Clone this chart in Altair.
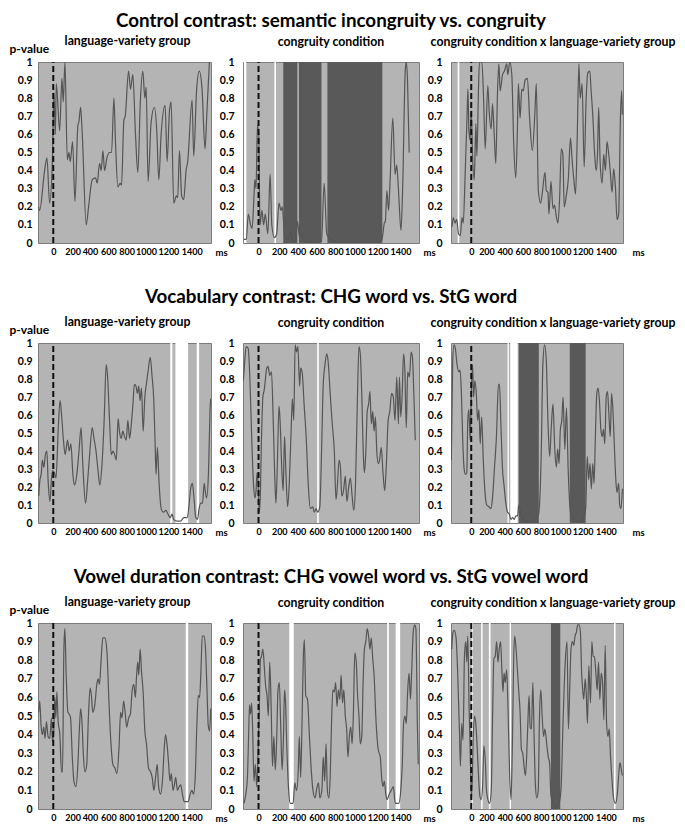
import altair as alt
import pandas as pd

FONT = "Lato"

ROW_TITLES = [
    "Control contrast: semantic incongruity vs. congruity",
    "Vocabulary contrast: CHG word vs. StG word",
    "Vowel duration contrast: CHG vowel word vs. StG vowel word",
]
COL_TITLES = [
    "language-variety group",
    "congruity condition",
    "congruity condition x language-variety group",
]
X_TICKS = [0, 200, 400, 600, 800, 1000, 1200, 1400]
Y_TICKS = [0, 0.1, 0.2, 0.3, 0.4, 0.5, 0.6, 0.7, 0.8, 0.9, 1.0]

# (time ms, p-value)
R1C1 = [(-145, 0.20), (-134, 0.18), (-85, 0.40), (-62, 0.47), (-36, 0.22), (-9, 0.45), (7, 0.83), (20, 0.60),
        (30, 0.88), (63, 0.62), (85, 0.91), (98, 0.78), (115, 1.0), (138, 0.46), (154, 0.50), (167, 0.45),
        (190, 0.56), (213, 0.23), (242, 0.65), (252, 0.67), (269, 0.75), (285, 0.60), (324, 0.10), (347, 0.20),
        (383, 0.35), (416, 0.36), (432, 0.33), (455, 0.44), (471, 0.40), (488, 0.51), (504, 0.40), (527, 0.47),
        (553, 0.50), (573, 0.50), (596, 0.80), (612, 0.55), (635, 0.31), (658, 0.33), (671, 0.32), (694, 0.68),
        (707, 0.70), (740, 0.95), (759, 0.85), (782, 0.93), (808, 0.60), (831, 0.39), (857, 0.80), (880, 0.95),
        (900, 0.80), (913, 0.86), (932, 0.34), (962, 0.67), (994, 0.75), (1017, 0.62), (1037, 0.35), (1060, 0.60),
        (1099, 0.76), (1119, 0.45), (1142, 0.73), (1158, 0.78), (1184, 0.22), (1210, 0.26), (1223, 0.25),
        (1240, 0.51), (1262, 0.26), (1282, 0.24), (1305, 0.40), (1321, 0.45), (1364, 0.79), (1380, 0.48),
        (1409, 0.85), (1435, 0.95), (1462, 0.85), (1491, 0.52), (1508, 0.70), (1534, 1.0)]

R1C2 = [(-141, 0.02), (-118, 0.02), (-99, 0.16), (-77, 0.10), (-62, 0.08), (-46, 0.23), (-36, 0.35), (-24, 0.30),
        (-11, 0.65), (2, 0.60), (14, 0.10), (33, 0.18), (49, 0.10), (65, 0.16), (90, 0.05), (112, 0.38),
        (128, 0.10), (153, 0.03), (175, 0.05), (198, 0.22), (217, 0.18), (229, 0.20), (254, 0.03), (286, 0.02),
        (311, 0.06), (333, 0.01), (356, 0.01), (375, 0.12), (397, 0.03), (419, 0.06), (444, 0.01), (570, 0.0),
        (608, 0.01), (634, 0.33), (659, 0.05), (681, 0.03), (703, 0.02), (760, 0.0), (1171, 0.0), (1196, 0.03),
        (1215, 0.11), (1225, 0.12), (1240, 0.29), (1256, 0.18), (1269, 0.32), (1297, 0.69), (1319, 0.38),
        (1335, 0.43), (1351, 0.30), (1376, 0.07), (1392, 0.30), (1417, 0.95), (1427, 1.0), (1439, 0.90),
        (1455, 0.50)]

R1C3 = [(-190, 0.09), (-177, 0.14), (-161, 0.11), (-144, 0.13), (-125, 0.05), (-108, 0.04), (-92, 0.14),
        (-79, 0.11), (-59, 0.40), (-42, 0.69), (-33, 0.85), (-23, 0.62), (-13, 0.57), (0, 0.73), (13, 0.48),
        (30, 0.35), (46, 0.66), (56, 0.48), (72, 0.86), (82, 1.0), (105, 1.0), (122, 0.80), (138, 0.52),
        (164, 0.87), (177, 0.73), (197, 0.63), (210, 0.77), (227, 0.60), (243, 0.44), (259, 0.82), (273, 0.99),
        (286, 0.84), (309, 0.93), (328, 0.95), (351, 0.99), (361, 0.93), (381, 1.0), (401, 0.93), (420, 0.55),
        (440, 0.36), (456, 0.62), (466, 0.88), (483, 0.69), (499, 0.85), (515, 0.84), (532, 0.90), (555, 0.91),
        (578, 0.68), (604, 0.51), (630, 0.73), (643, 0.88), (663, 0.29), (686, 0.22), (703, 0.28), (729, 0.39),
        (742, 0.29), (758, 0.28), (768, 0.16), (788, 0.34), (808, 0.19), (824, 0.21), (840, 0.15), (857, 0.11),
        (873, 0.24), (890, 0.52), (906, 0.49), (919, 0.20), (939, 0.26), (959, 0.35), (981, 0.58), (998, 0.45),
        (1014, 0.35), (1031, 0.27), (1047, 0.57), (1064, 0.99), (1077, 0.80), (1096, 0.88), (1116, 0.42),
        (1136, 0.80), (1152, 0.94), (1172, 0.95), (1185, 0.84), (1201, 0.71), (1218, 0.51), (1234, 0.40),
        (1247, 0.48), (1260, 0.75), (1273, 0.46), (1293, 0.33), (1310, 0.49), (1326, 0.40), (1342, 0.56),
        (1359, 0.49), (1375, 0.39), (1392, 0.28), (1408, 0.41), (1425, 0.31), (1441, 0.13), (1457, 0.16),
        (1474, 0.68), (1487, 0.84), (1493, 0.71)]

R2C1 = [(-143, 0.15), (-133, 0.23), (-117, 0.28), (-107, 0.35), (-93, 0.31), (-77, 0.38), (-63, 0.40), (-50, 0.23),
        (-33, 0.12), (-17, 0.25), (-7, 0.29), (10, 0.28), (27, 0.25), (50, 0.54), (67, 0.68), (83, 0.59),
        (100, 0.46), (117, 0.38), (140, 0.46), (157, 0.40), (173, 0.44), (193, 0.27), (207, 0.21), (227, 0.25),
        (253, 0.40), (273, 0.53), (290, 0.33), (317, 0.11), (340, 0.25), (360, 0.40), (383, 0.53), (400, 0.47),
        (420, 0.40), (440, 0.29), (457, 0.21), (477, 0.31), (500, 0.57), (520, 0.88), (533, 0.82), (553, 0.57),
        (570, 0.38), (587, 0.40), (603, 0.38), (620, 0.35), (637, 0.58), (650, 0.51), (667, 0.47), (683, 0.51),
        (700, 0.48), (717, 0.46), (733, 0.57), (750, 0.47), (767, 0.55), (783, 0.66), (797, 0.77), (813, 0.76),
        (827, 0.72), (840, 0.76), (853, 0.68), (867, 0.75), (883, 0.51), (900, 0.70), (917, 0.78), (933, 0.85),
        (953, 0.92), (970, 0.82), (987, 0.69), (1000, 0.46), (1010, 0.27), (1023, 0.42), (1040, 0.22),
        (1060, 0.08), (1083, 0.06), (1107, 0.07), (1127, 0.05), (1150, 0.03), (1167, 0.05), (1183, 0.02),
        (1217, 0.01), (1250, 0.01), (1283, 0.03), (1317, 0.03), (1333, 0.09), (1350, 0.19), (1367, 0.22),
        (1383, 0.14), (1400, 0.03), (1417, 0.02), (1433, 0.08), (1450, 0.11), (1467, 0.11), (1483, 0.22),
        (1493, 0.18), (1507, 0.14), (1527, 0.31), (1540, 0.62), (1547, 0.69)]

R2C2 = [(-147, 0.79), (-133, 0.90), (-120, 0.98), (-100, 0.97), (-84, 0.81), (-64, 0.44), (-47, 0.20), (-34, 0.14),
        (-24, 0.18), (-14, 0.28), (-4, 0.22), (6, 0.06), (16, 0.13), (29, 0.48), (42, 0.70), (55, 0.74),
        (65, 0.79), (79, 0.86), (92, 0.87), (108, 0.82), (125, 0.84), (142, 0.57), (155, 0.29), (168, 0.11),
        (181, 0.31), (198, 0.65), (208, 0.57), (224, 0.31), (238, 0.18), (251, 0.48), (264, 0.29), (281, 0.09),
        (297, 0.22), (314, 0.50), (327, 0.69), (340, 0.57), (354, 0.99), (367, 0.95), (380, 0.98), (397, 0.76),
        (407, 0.86), (423, 0.83), (440, 0.66), (460, 0.48), (480, 0.22), (500, 0.08), (523, 0.09), (539, 0.06),
        (556, 0.08), (572, 0.06), (592, 0.09), (609, 0.40), (625, 0.77), (642, 0.88), (659, 0.94), (672, 0.90),
        (692, 0.72), (712, 0.55), (732, 0.40), (748, 0.13), (761, 0.20), (778, 0.35), (791, 0.31), (804, 0.15),
        (821, 0.18), (838, 0.26), (854, 0.12), (871, 0.20), (887, 0.25), (904, 0.15), (920, 0.07), (937, 0.22),
        (954, 0.66), (970, 0.98), (983, 0.94), (997, 0.72), (1013, 0.37), (1023, 0.28), (1036, 0.39),
        (1050, 0.62), (1063, 0.66), (1076, 0.73), (1090, 0.55), (1103, 0.62), (1116, 0.51), (1129, 0.59),
        (1142, 0.40), (1156, 0.33), (1169, 0.35), (1186, 0.42), (1202, 0.28), (1219, 0.18), (1235, 0.33),
        (1252, 0.57), (1268, 0.62), (1285, 0.72), (1302, 0.70), (1318, 0.57), (1335, 0.81), (1351, 0.55),
        (1361, 0.81), (1374, 0.59), (1388, 0.72), (1401, 0.94), (1414, 0.84), (1427, 0.53), (1441, 0.84),
        (1457, 0.81), (1474, 0.95), (1487, 0.92), (1500, 0.72), (1514, 0.46)]

R2C3 = [(-197, 0.35), (-183, 0.90), (-170, 0.99), (-157, 0.97), (-140, 0.88), (-123, 0.84), (-110, 0.85),
        (-97, 0.72), (-84, 0.46), (-70, 0.30), (-57, 0.27), (-44, 0.28), (-34, 0.57), (-24, 0.63), (-10, 0.46),
        (3, 0.77), (13, 0.88), (23, 0.70), (36, 0.79), (50, 0.72), (63, 0.57), (76, 0.63), (89, 0.44),
        (103, 0.59), (119, 0.35), (136, 0.17), (153, 0.10), (176, 0.09), (193, 0.08), (209, 0.13), (229, 0.30),
        (249, 0.48), (269, 0.77), (279, 0.77), (292, 0.57), (309, 0.30), (326, 0.20), (342, 0.11), (359, 0.06),
        (376, 0.05), (392, 0.02), (409, 0.03), (425, 0.02), (442, 0.04), (459, 0.04), (469, 0.10), (482, 0.08),
        (502, 0.03), (542, 0.01), (608, 0.01), (642, 0.03), (662, 0.04), (675, 0.10), (692, 0.39), (708, 0.88),
        (725, 0.99), (742, 0.90), (758, 0.57), (775, 0.37), (791, 0.53), (808, 0.66), (825, 0.42), (841, 0.31),
        (855, 0.41), (868, 0.33), (881, 0.52), (895, 0.57), (908, 0.70), (925, 0.41), (941, 0.64), (958, 0.30),
        (974, 0.10), (991, 0.03), (1041, 0.01), (1091, 0.01), (1114, 0.03), (1131, 0.08), (1147, 0.37),
        (1161, 0.24), (1174, 0.33), (1187, 0.19), (1201, 0.33), (1214, 0.22), (1227, 0.48), (1241, 0.72),
        (1254, 0.75), (1267, 0.68), (1281, 0.52), (1294, 0.48), (1307, 0.52), (1320, 0.44), (1334, 0.70),
        (1347, 0.73), (1360, 0.61), (1374, 0.48), (1387, 0.72), (1400, 0.63), (1414, 0.44), (1427, 0.26),
        (1440, 0.17), (1457, 0.22), (1467, 0.10), (1480, 0.08), (1494, 0.19)]

R3C1 = [(-143, 0.52), (-133, 0.58), (-120, 0.45), (-107, 0.40), (-94, 0.44), (-81, 0.38), (-67, 0.47), (-51, 0.39),
        (-34, 0.38), (-18, 0.49), (-8, 0.36), (5, 0.42), (15, 0.60), (25, 0.49), (35, 0.63), (48, 0.47),
        (65, 0.40), (81, 0.20), (91, 0.20), (104, 0.85), (114, 0.97), (127, 0.72), (144, 0.52), (157, 0.51),
        (170, 0.49), (187, 0.28), (203, 0.15), (223, 0.12), (240, 0.22), (256, 0.42), (269, 0.54), (282, 0.47),
        (296, 0.29), (312, 0.20), (329, 0.24), (345, 0.49), (362, 0.65), (375, 0.61), (388, 0.52), (408, 0.56),
        (428, 0.67), (441, 0.70), (454, 0.67), (471, 0.81), (487, 0.92), (507, 0.92), (527, 0.85), (547, 0.58),
        (566, 0.36), (586, 0.24), (606, 0.22), (626, 0.19), (646, 0.33), (662, 0.52), (675, 0.49), (692, 0.58),
        (708, 0.51), (721, 0.44), (741, 0.49), (758, 0.51), (774, 0.63), (791, 0.67), (807, 0.60), (817, 0.70),
        (830, 0.79), (840, 0.72), (854, 0.86), (867, 0.74), (883, 0.63), (900, 0.42), (916, 0.35), (936, 0.22),
        (956, 0.20), (972, 0.17), (989, 0.10), (1005, 0.17), (1022, 0.24), (1035, 0.12), (1055, 0.08),
        (1075, 0.17), (1091, 0.33), (1104, 0.40), (1121, 0.33), (1134, 0.24), (1147, 0.15), (1160, 0.19),
        (1177, 0.10), (1190, 0.13), (1203, 0.17), (1220, 0.10), (1236, 0.12), (1253, 0.13), (1269, 0.08),
        (1286, 0.04), (1302, 0.04), (1326, 0.04), (1345, 0.08), (1362, 0.10), (1378, 0.08), (1395, 0.17),
        (1411, 0.45), (1425, 0.61), (1438, 0.60), (1451, 0.74), (1464, 0.93), (1484, 0.93), (1497, 0.85),
        (1510, 0.65), (1523, 0.45), (1537, 0.42), (1547, 0.54)]

R3C2 = [(-140, 0.03), (-123, 0.08), (-107, 0.17), (-97, 0.37), (-87, 0.56), (-77, 0.51), (-67, 0.57), (-57, 0.43),
        (-44, 0.15), (-31, 0.24), (-17, 0.12), (-4, 0.32), (6, 0.50), (19, 0.81), (29, 0.82), (42, 0.86),
        (55, 0.77), (69, 0.66), (82, 0.61), (95, 0.50), (108, 0.79), (122, 0.55), (135, 0.23), (148, 0.39),
        (162, 0.21), (175, 0.37), (188, 0.64), (201, 0.68), (215, 0.43), (228, 0.21), (241, 0.39), (251, 0.64),
        (261, 0.57), (274, 0.32), (291, 0.10), (307, 0.03), (334, 0.03), (350, 0.14), (367, 0.10), (384, 0.21),
        (394, 0.39), (407, 0.17), (420, 0.46), (433, 0.82), (443, 0.91), (456, 0.61), (473, 0.59), (490, 0.41),
        (506, 0.24), (526, 0.10), (546, 0.06), (566, 0.12), (579, 0.14), (592, 0.06), (612, 0.10), (625, 0.28),
        (639, 0.15), (652, 0.35), (665, 0.10), (679, 0.06), (692, 0.17), (705, 0.46), (718, 0.64), (732, 0.63),
        (745, 0.68), (758, 0.55), (771, 0.64), (785, 0.59), (798, 0.72), (811, 0.57), (824, 0.64), (838, 0.50),
        (851, 0.43), (864, 0.28), (877, 0.39), (891, 0.44), (904, 0.35), (917, 0.53), (930, 0.84), (944, 0.79),
        (957, 0.61), (970, 0.50), (983, 0.35), (997, 0.39), (1010, 0.68), (1023, 0.86), (1036, 0.90),
        (1050, 0.97), (1063, 0.93), (1076, 0.86), (1089, 0.92), (1103, 0.81), (1116, 0.72), (1136, 0.46),
        (1156, 0.32), (1176, 0.28), (1189, 0.17), (1202, 0.12), (1215, 0.15), (1229, 0.08), (1242, 0.05),
        (1262, 0.08), (1282, 0.10), (1302, 0.12), (1321, 0.03), (1355, 0.03), (1374, 0.10), (1388, 0.23),
        (1401, 0.46), (1414, 0.50), (1427, 0.46), (1441, 0.64), (1454, 0.73), (1467, 0.59), (1480, 0.75),
        (1494, 0.95), (1507, 0.99), (1520, 0.97), (1534, 0.46), (1543, 0.24)]

R3C3 = [(-193, 0.86), (-180, 0.95), (-167, 0.96), (-150, 0.92), (-134, 0.73), (-117, 0.43), (-107, 0.23),
        (-94, 0.46), (-81, 0.37), (-67, 0.82), (-54, 0.90), (-44, 0.79), (-34, 0.93), (-21, 0.54), (-8, 0.25),
        (5, 0.05), (19, 0.37), (32, 0.50), (45, 0.46), (58, 0.34), (72, 0.18), (85, 0.07), (98, 0.05),
        (112, 0.12), (125, 0.34), (138, 0.27), (151, 0.10), (165, 0.05), (181, 0.03), (198, 0.10), (211, 0.50),
        (224, 0.81), (237, 0.82), (251, 0.90), (264, 0.79), (277, 0.86), (290, 0.90), (304, 0.73), (314, 0.63),
        (324, 0.73), (337, 0.68), (350, 0.75), (363, 0.55), (380, 0.18), (393, 0.05), (406, 0.32), (420, 0.82),
        (430, 0.93), (443, 0.86), (456, 0.75), (469, 0.64), (483, 0.52), (496, 0.32), (509, 0.30), (522, 0.23),
        (536, 0.18), (549, 0.30), (562, 0.50), (572, 0.61), (582, 0.44), (595, 0.43), (609, 0.68), (622, 0.37),
        (635, 0.12), (648, 0.06), (662, 0.10), (675, 0.50), (688, 0.64), (701, 0.50), (715, 0.39), (728, 0.43),
        (748, 0.34), (761, 0.28), (774, 0.25), (788, 0.07), (811, 0.03), (844, 0.01), (867, 0.03), (887, 0.10),
        (907, 0.46), (927, 0.77), (947, 0.90), (960, 0.43), (973, 0.64), (986, 0.86), (1000, 0.90), (1013, 0.88),
        (1026, 0.93), (1039, 0.95), (1053, 0.99), (1066, 0.99), (1079, 0.95), (1092, 0.72), (1102, 0.64),
        (1112, 0.59), (1126, 0.70), (1136, 0.63), (1149, 0.46), (1162, 0.77), (1179, 0.57), (1192, 0.90),
        (1205, 0.82), (1218, 0.82), (1232, 0.73), (1245, 0.64), (1258, 0.79), (1271, 0.59), (1285, 0.73),
        (1298, 0.68), (1311, 0.48), (1324, 0.88), (1338, 0.46), (1351, 0.39), (1364, 0.43), (1377, 0.28),
        (1391, 0.16), (1404, 0.07), (1424, 0.03), (1444, 0.08), (1457, 0.18), (1470, 0.25), (1484, 0.21),
        (1493, 0.18)]

# significance windows: white = marginal, dark = significant (start ms, end ms)
WHITE = {
    "R1C1": [], "R1C2": [(-141, -118), (153, 169)], "R1C3": [(-134, -118)],
    "R2C1": [(1150, 1170), (1200, 1325), (1410, 1433)], "R2C2": [(566, 582)],
    "R2C3": [(359, 372), (386, 459)],
    "R3C1": [(1302, 1326)], "R3C2": [(297, 340), (1242, 1259), (1325, 1368)],
    "R3C3": [(5, 15), (98, 112), (174, 191), (380, 393), (1411, 1427)],
}
DARK = {
    "R1C1": [], "R1C2": [(239, 375), (390, 608), (665, 1196)], "R1C3": [],
    "R2C1": [], "R2C2": [], "R2C3": [(469, 668), (974, 1131)],
    "R3C1": [], "R3C2": [], "R3C3": [(788, 880)],
}
CURVES = {"R1C1": R1C1, "R1C2": R1C2, "R1C3": R1C3, "R2C1": R2C1, "R2C2": R2C2,
          "R2C3": R2C3, "R3C1": R3C1, "R3C2": R3C2, "R3C3": R3C3}

DOMAINS = [[-150, 1550], [-150, 1550], [-200, 1500]]
WIDTHS = [173, 176, 172]
HEIGHTS = [181, 180, 186]
TITLE_GAP = [5, 10, 10]
MS_GAP = [4, 4, 9]
# the tick labels in the source are typed text, slightly off their ticks (px shift per label)
LABEL_SHIFT = [
    {200: -1, 400: -4, 600: -6, 800: -8, 1000: -9, 1200: -7, 1400: -4},
    {200: 0, 400: -2, 600: -4, 800: -6, 1000: -7, 1200: -5, 1400: -3},
    {200: -5, 400: -7, 600: -9, 800: -11, 1000: -12, 1200: -10, 1400: -7},
]


def panel(r, c):
    key = f"R{r + 1}C{c + 1}"
    w, h = WIDTHS[c], HEIGHTS[r]
    xs = alt.Scale(domain=DOMAINS[c], nice=False, zero=False)
    ys = alt.Scale(domain=[0, 1], nice=False)
    shift = {"condition": [{"test": f"datum.value == {v}", "value": d} for v, d in LABEL_SHIFT[c].items()],
             "value": 0}
    xaxis = alt.Axis(values=X_TICKS, format="d", title="ms", titleX=w + MS_GAP[c], titleY=9, titleAlign="left",
                     titleBaseline="middle", titleFontSize=9.5, titleFontWeight="bold", titleFont=FONT,
                     labelPadding=4, labelFontSize=9, labelFlush=False, labelOverlap=False, labelOffset=shift)
    if c == 0:
        yaxis = alt.Axis(values=Y_TICKS, format=".1~f", title="p-value", titleAngle=0, titleX=-29, titleY=-14,
                         titleAlign="left", titleBaseline="middle", titleFontSize=12,
                         titleFontWeight="bold", titleFont=FONT, labelPadding=6, labelFontSize=10.5)
    else:
        yaxis = alt.Axis(values=Y_TICKS, format=".1~f", title=None, labelPadding=9, labelFontSize=10.5)

    regions = [(a, b, "white", 0, 1) for a, b in WHITE[key]] + [(a, b, "dark", 0, 1) for a, b in DARK[key]]
    layers = []
    if regions:
        rdf = pd.DataFrame(regions, columns=["a", "b", "k", "y0", "y1"])
        layers.append(alt.Chart(rdf).mark_rect().encode(
            x=alt.X("a:Q", scale=xs, axis=xaxis), x2="b",
            y=alt.Y("y0:Q", scale=ys, axis=yaxis), y2="y1",
            color=alt.Color("k:N", scale=alt.Scale(domain=["white", "dark"], range=["#ffffff", "#595959"]),
                            legend=None)))
    cdf = pd.DataFrame(CURVES[key], columns=["t", "p"])
    layers.append(alt.Chart(cdf).mark_line(interpolate="monotone", color="#555555", strokeWidth=1.2,
                                           clip=True).encode(
        x=alt.X("t:Q", scale=xs, axis=xaxis), y=alt.Y("p:Q", scale=ys, axis=yaxis)))
    zdf = pd.DataFrame({"t": [0], "y0": [0], "y1": [1]})
    layers.append(alt.Chart(zdf).mark_rule(color="#111111", strokeWidth=2, strokeDash=[6, 3]).encode(
        x=alt.X("t:Q", scale=xs, axis=xaxis), y=alt.Y("y0:Q", scale=ys, axis=yaxis), y2="y1"))

    if c == 1:
        title = alt.TitleParams(text=ROW_TITLES[r], subtitle=COL_TITLES[c], anchor="middle", frame="group",
                                fontSize=18.8, font=FONT, fontWeight="bold", color="#000000",
                                subtitleFont=FONT, subtitleFontSize=12.3, subtitleFontWeight="bold",
                                subtitleColor="#000000", subtitlePadding=TITLE_GAP[r], offset=9)
    else:
        title = alt.TitleParams(text=COL_TITLES[c], anchor="middle", frame="group", fontSize=12.3, font=FONT,
                                fontWeight="bold", color="#000000", offset=-5 if c == 0 else 9,
                                dx=3 if c == 0 else 16)
    return alt.layer(*layers).properties(width=w, height=h, title=title)


panels = [panel(r, c) for r in range(3) for c in range(3)]

chart = alt.concat(*panels, columns=3, spacing=alt.RowColnumber(row=100, column=32),
                   bounds="flush", align="each").properties(
    padding={"top": 3, "left": 0, "right": 0, "bottom": 0}
).configure_view(
    fill="#b4b4b4", stroke="#7c7c7c", strokeWidth=1
).configure_axis(
    domain=False, ticks=False, grid=False, labelFont=FONT, labelFontWeight="bold", labelColor="#000000",
    titleColor="#000000"
)

chart.save("out.html", embed_options={"renderer": "svg", "actions": False})
